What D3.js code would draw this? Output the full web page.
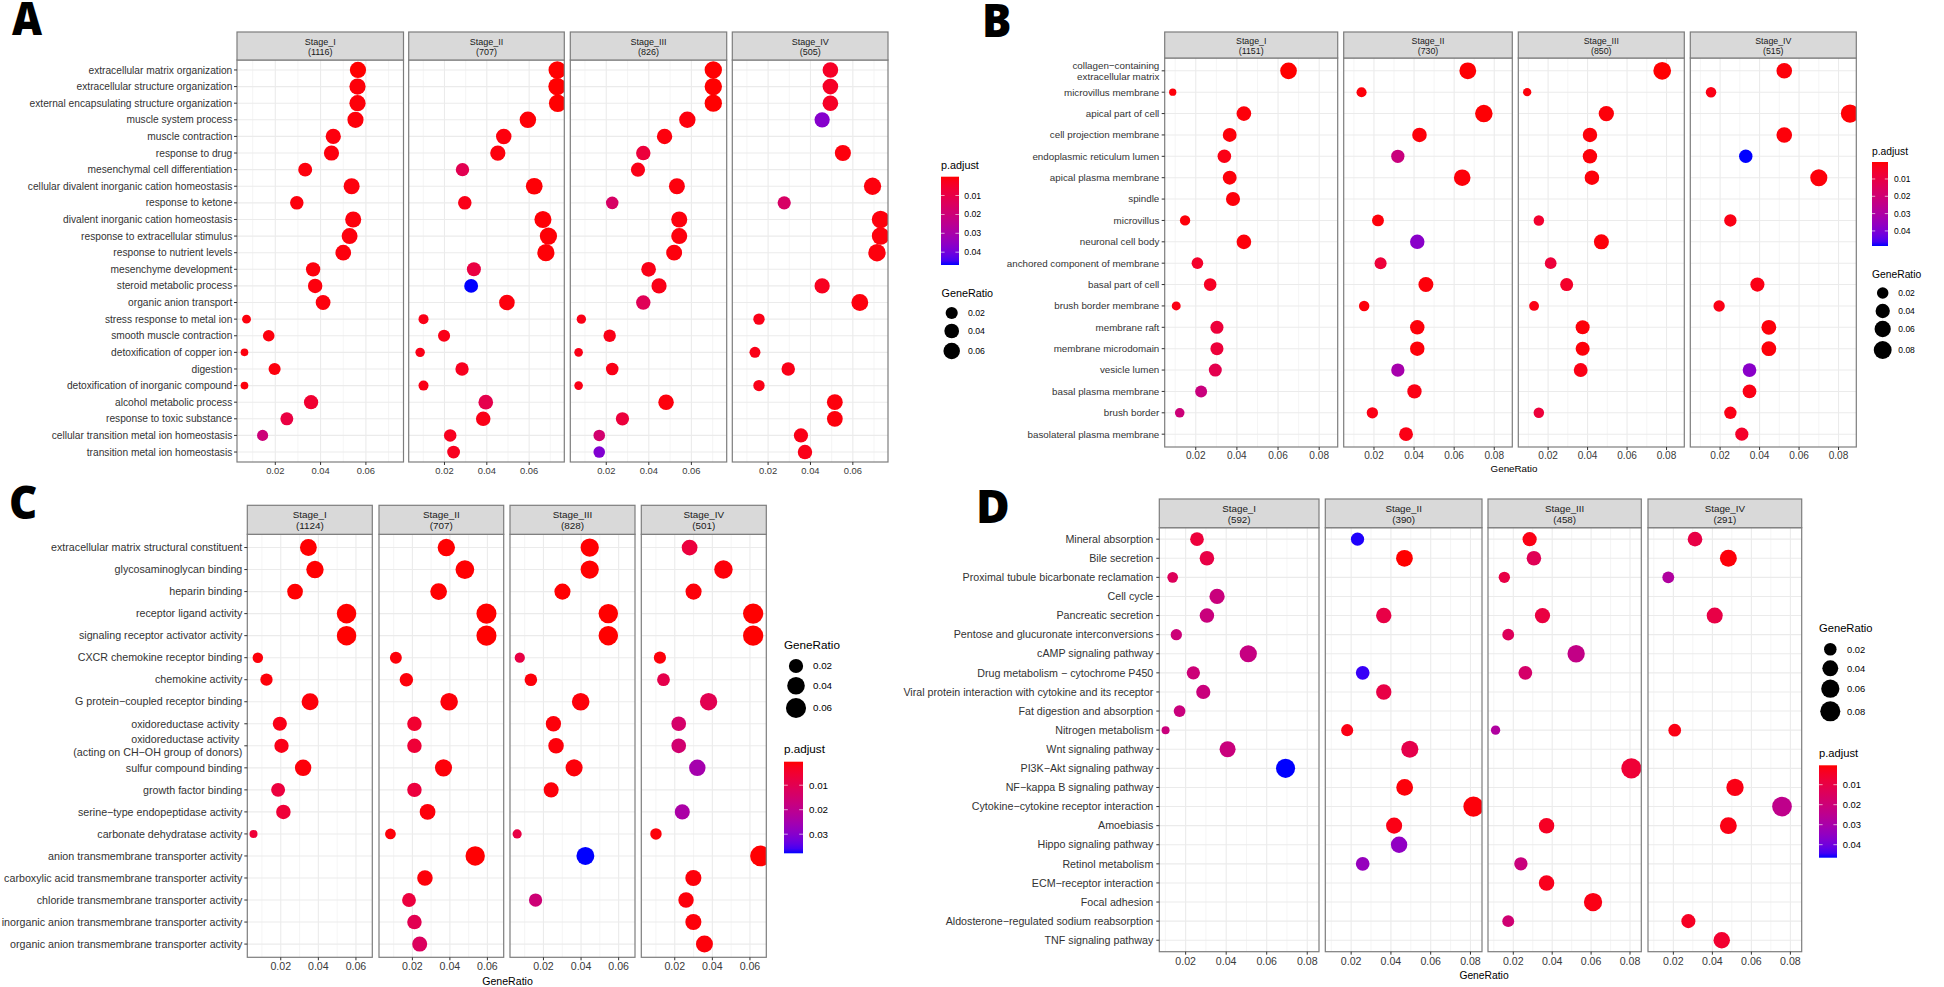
<!DOCTYPE html>
<html>
<head>
<meta charset="utf-8">
<script src="https://cdn.jsdelivr.net/npm/d3@7/dist/d3.min.js"></script>
<style>
  html, body { margin: 0; padding: 0; background: #ffffff; }
  svg { display: block; }
</style>
</head>
<body>
<svg id="chart" width="1944" height="987"></svg>
<script>
// ---------------- DATA ----------------
const STAGES = ["Stage_I", "Stage_II", "Stage_III", "Stage_IV"];

// Panel A (GO BP)
const A_terms = ["extracellular matrix organization","extracellular structure organization","external encapsulating structure organization","muscle system process","muscle contraction","response to drug","mesenchymal cell differentiation","cellular divalent inorganic cation homeostasis","response to ketone","divalent inorganic cation homeostasis","response to extracellular stimulus","response to nutrient levels","mesenchyme development","steroid metabolic process","organic anion transport","stress response to metal ion","smooth muscle contraction","detoxification of copper ion","digestion","detoxification of inorganic compound","alcohol metabolic process","response to toxic substance","cellular transition metal ion homeostasis","transition metal ion homeostasis"];
const A_counts = ["(1116)", "(707)", "(826)", "(505)"];
const A_ratio = [
  [0.0565,0.0563,0.0563,0.0554,0.0456,0.0448,0.0332,0.0537,0.0295,0.0544,0.0528,0.0500,0.0367,0.0376,0.0411,0.0073,0.0171,0.0064,0.0197,0.0064,0.0358,0.0251,0.0144,null],
  [0.0733,0.0732,0.0735,0.0594,0.0480,0.0452,0.0285,0.0624,0.0296,0.0665,0.0691,0.0679,0.0339,0.0326,0.0495,0.0101,0.0198,0.0085,0.0283,0.0101,0.0395,0.0383,0.0227,0.0243],
  [0.0703,0.0703,0.0703,0.0581,0.0474,0.0374,0.0349,0.0532,0.0228,0.0543,0.0543,0.0519,0.0399,0.0448,0.0374,0.0083,0.0216,0.0070,0.0228,0.0070,0.0481,0.0276,0.0167,0.0167],
  [0.0494,0.0494,0.0494,0.0455,null,0.0553,null,0.0693,0.0276,0.0731,0.0731,0.0714,null,0.0455,0.0633,0.0157,null,0.0138,0.0295,0.0157,0.0515,0.0515,0.0355,0.0374]
];
const A_padj = [
  [0.00002,0.0008,0.0008,0.0008,0.001,0.001,0.001,0.001,0.001,0.001,0.001,0.001,0.001,0.001,0.001,0.001,0.001,0.001,0.001,0.001,0.006,0.009,0.020,null],
  [0.0001,0.0001,0.0001,0.0005,0.001,0.001,0.012,0.0005,0.002,0.0005,0.0005,0.0005,0.009,0.0468,0.001,0.002,0.002,0.002,0.003,0.002,0.011,0.002,0.003,0.003],
  [0.0001,0.0001,0.0001,0.001,0.001,0.008,0.002,0.001,0.016,0.001,0.001,0.001,0.002,0.002,0.013,0.002,0.002,0.002,0.002,0.002,0.001,0.008,0.018,0.038],
  [0.004,0.004,0.004,0.037,null,0.001,null,0.001,0.016,0.001,0.001,0.001,null,0.003,0.001,0.002,null,0.002,0.002,0.002,0.001,0.001,0.002,0.002]
];

// Panel B (GO CC)
const B_terms = ["collagen\u2212containing\nextracellular matrix","microvillus membrane","apical part of cell","cell projection membrane","endoplasmic reticulum lumen","apical plasma membrane","spindle","microvillus","neuronal cell body","anchored component of membrane","basal part of cell","brush border membrane","membrane raft","membrane microdomain","vesicle lumen","basal plasma membrane","brush border","basolateral plasma membrane"];
const B_counts = ["(1151)", "(730)", "(850)", "(515)"];
const B_ratio = [
  [0.0651,0.0088,0.0434,0.0365,0.0339,0.0365,0.0381,0.0148,0.0434,0.0208,0.0270,0.0105,0.0303,0.0303,0.0295,0.0226,0.0122,null],
  [0.0668,0.0138,0.0748,0.0427,0.0319,0.0640,null,0.0220,0.0416,0.0233,0.0459,0.0151,0.0416,0.0416,0.0319,0.0402,0.0192,0.0360],
  [0.0778,0.0094,0.0495,0.0412,0.0412,0.0422,null,0.0153,0.0470,0.0213,0.0294,0.0129,0.0375,0.0375,0.0365,null,0.0153,null],
  [0.0525,0.0154,0.0858,0.0525,0.0330,0.0700,null,0.0252,null,null,0.0389,0.0195,0.0447,0.0447,0.0349,0.0349,0.0252,0.0310]
];
const B_padj = [
  [0.0002,0.001,0.001,0.001,0.002,0.001,0.001,0.001,0.001,0.005,0.004,0.002,0.008,0.008,0.012,0.022,0.021,null],
  [0.0005,0.001,0.0005,0.001,0.022,0.001,null,0.001,0.038,0.008,0.001,0.001,0.001,0.001,0.032,0.002,0.002,0.002],
  [0.0003,0.001,0.001,0.001,0.001,0.001,null,0.006,0.001,0.008,0.005,0.002,0.001,0.001,0.002,null,0.008,null],
  [0.001,0.002,0.0005,0.001,0.0487,0.001,null,0.002,null,null,0.002,0.002,0.001,0.001,0.038,0.002,0.002,0.005]
];

// Panel C (GO MF)
const C_terms = ["extracellular matrix structural constituent","glycosaminoglycan binding","heparin binding","receptor ligand activity","signaling receptor activator activity","CXCR chemokine receptor binding","chemokine activity","G protein\u2212coupled receptor binding","oxidoreductase activity ","oxidoreductase activity \n(acting on CH\u2212OH group of donors)","sulfur compound binding","growth factor binding","serine\u2212type endopeptidase activity","carbonate dehydratase activity","anion transmembrane transporter activity","carboxylic acid transmembrane transporter activity","chloride transmembrane transporter activity","inorganic anion transmembrane transporter activity","organic anion transmembrane transporter activity"];
const C_counts = ["(1124)", "(707)", "(828)", "(501)"];
const C_ratio = [
  [0.0347,0.0382,0.0276,0.0550,0.0550,0.0078,0.0124,0.0356,0.0195,0.0204,0.0319,0.0186,0.0214,0.0055,null,null,null,null,null],
  [0.0381,0.0480,0.0340,0.0595,0.0595,0.0112,0.0168,0.0396,0.0211,0.0211,0.0366,0.0211,0.0281,0.0083,0.0535,0.0267,0.0182,0.0211,0.0239],
  [0.0446,0.0446,0.0301,0.0545,0.0545,0.0074,0.0133,0.0398,0.0253,0.0267,0.0363,0.0241,null,0.0060,0.0423,null,0.0158,null,null],
  [0.0279,0.0459,0.0300,0.0617,0.0617,0.0121,0.0140,0.0380,0.0221,0.0221,0.0320,null,0.0240,0.0100,0.0656,0.0299,0.0260,0.0299,0.0358]
];
const C_padj = [
  [0.0005,0.0005,0.0005,0.0004,0.0004,0.001,0.001,0.001,0.002,0.002,0.001,0.007,0.006,0.006,null,null,null,null,null],
  [0.0005,0.0005,0.0005,0.0004,0.0004,0.001,0.001,0.001,0.005,0.006,0.001,0.007,0.001,0.001,0.0005,0.001,0.007,0.010,0.012],
  [0.0005,0.0005,0.0005,0.0004,0.0004,0.008,0.001,0.001,0.001,0.001,0.001,0.001,null,0.008,0.0378,null,0.016,null,null],
  [0.007,0.001,0.001,0.0004,0.0004,0.001,0.009,0.010,0.014,0.015,0.025,null,0.024,0.001,0.0005,0.001,0.001,0.001,0.001]
];

// Panel D (KEGG)
const D_terms = ["Mineral absorption","Bile secretion","Proximal tubule bicarbonate reclamation","Cell cycle","Pancreatic secretion","Pentose and glucuronate interconversions","cAMP signaling pathway","Drug metabolism \u2212 cytochrome P450","Viral protein interaction with cytokine and its receptor","Fat digestion and absorption","Nitrogen metabolism","Wnt signaling pathway","PI3K\u2212Akt signaling pathway","NF\u2212kappa B signaling pathway","Cytokine\u2212cytokine receptor interaction","Amoebiasis","Hippo signaling pathway","Retinol metabolism","ECM\u2212receptor interaction","Focal adhesion","Aldosterone\u2212regulated sodium reabsorption","TNF signaling pathway"];
const D_counts = ["(592)", "(390)", "(458)", "(291)"];
const D_ratio = [
  [0.0256,0.0305,0.0136,0.0355,0.0305,0.0154,0.0509,0.0238,0.0287,0.0170,0.0101,0.0407,0.0693,null,null,null,null,null,null,null,null,null],
  [0.0232,0.0468,null,null,0.0364,null,null,0.0258,0.0364,null,0.0180,0.0495,null,0.0469,0.0815,0.0416,0.0441,0.0258,null,null,null,null],
  [0.0284,0.0306,0.0154,null,0.0350,0.0174,0.0523,0.0262,null,null,0.0109,null,0.0807,null,null,0.0371,null,0.0239,0.0371,0.0610,0.0174,null],
  [0.0311,0.0482,0.0174,null,0.0412,null,null,null,null,null,0.0207,null,null,0.0516,0.0757,0.0482,null,null,null,null,0.0277,0.0448]
];
const D_padj = [
  [0.008,0.010,0.014,0.021,0.021,0.020,0.022,0.020,0.021,0.021,0.021,0.021,0.0465,null,null,null,null,null,null,null,null,null],
  [0.046,0.0003,null,null,0.010,null,null,0.045,0.010,null,0.002,0.011,null,0.001,0.001,0.002,0.035,0.034,null,null,null,null],
  [0.002,0.013,0.010,null,0.009,0.014,0.023,0.017,null,null,0.028,null,0.007,null,null,0.004,null,0.021,0.003,0.002,0.019,null],
  [0.010,0.001,0.028,null,0.010,null,null,null,null,null,0.002,null,null,0.002,0.024,0.002,null,null,null,null,0.004,0.006]
];

// Tick / legend breaks
const A_xticks = [0.02, 0.04, 0.06];
const B_xticks = [0.02, 0.04, 0.06, 0.08];
const C_xticks = [0.02, 0.04, 0.06];
const D_xticks = [0.02, 0.04, 0.06, 0.08];
const A_sizeBreaks = [0.02, 0.04, 0.06];
const B_sizeBreaks = [0.02, 0.04, 0.06, 0.08];
const C_sizeBreaks = [0.02, 0.04, 0.06];
const D_sizeBreaks = [0.02, 0.04, 0.06, 0.08];
const A_colorBreaks = [0.01, 0.02, 0.03, 0.04];
const B_colorBreaks = [0.01, 0.02, 0.03, 0.04];
const C_colorBreaks = [0.01, 0.02, 0.03];
const D_colorBreaks = [0.01, 0.02, 0.03, 0.04];

// ---------------- LAYOUT ----------------
const FONT = "'Liberation Sans', Arial, Helvetica, sans-serif";
const layoutA = {
  facets: [[237,403.5],[408.7,564.3],[570.3,726.7],[732.3,888]],
  stripTop: 32, stripBottom: 60, plotBottom: 462,
  xDomain: [0.0031, 0.0766], diam: [7.7, 17.6],
  labelFs: 10.2, labelGap: 4.7, tickFs: 9.4, tickLabelY: 471, stripFs: 9, stripLines: [41.7, 51.7],
  axisTitle: null, letter: {text: "A", x: 12, y: 35, sx: 0.9},
  colorLeg: {x: 941, titleY: 165.7, barTop: 176.7, barBottom: 265, barW: 18, labelX: 964.3, titleFs: 10.8, labelFs: 8.7},
  sizeLeg: {x: 941.5, titleY: 293.3, cx: 951.7, ys: [313, 331, 351], labelX: 968, titleFs: 10.8, labelFs: 8.7}
};
const layoutB = {
  facets: [[1164.7,1337.7],[1343.7,1512.3],[1518.3,1684.3],[1690.3,1856.3]],
  stripTop: 32, stripBottom: 58, plotBottom: 447,
  xDomain: [0.0049, 0.089], diam: [7.3, 18.3],
  labelFs: 9.8, labelGap: 5.4, tickFs: 10.1, tickLabelY: 455.7, stripFs: 8.8, stripLines: [40.7, 50.7],
  axisTitle: {x: 1514, y: 469, fs: 9.8}, letter: {text: "B", x: 982, y: 37, sx: 0.95},
  colorLeg: {x: 1872, titleY: 151, barTop: 162, barBottom: 246, barW: 16, labelX: 1894, titleFs: 10.3, labelFs: 8.5},
  sizeLeg: {x: 1872, titleY: 274, cx: 1882.7, ys: [293, 311, 329, 350], labelX: 1898.3, titleFs: 10.3, labelFs: 8.5}
};
const layoutC = {
  facets: [[247.3,372.3],[379,503.7],[510,635],[641.3,766.3]],
  stripTop: 505.3, stripBottom: 534.3, plotBottom: 957.3,
  xDomain: [0.0022, 0.0687], diam: [8, 20.7],
  labelFs: 10.7, labelGap: 5, tickFs: 10.6, tickLabelY: 966.7, stripFs: 9.9, stripLines: [515, 526],
  axisTitle: {x: 507.5, y: 981, fs: 10.6}, letter: {text: "C", x: 9, y: 519, sx: 0.95},
  sizeLeg: {x: 784, titleY: 645, cx: 796, ys: [666, 685.7, 708], labelX: 813, titleFs: 11.7, labelFs: 9.8},
  colorLeg: {x: 784, titleY: 749, barTop: 761.7, barBottom: 853.3, barW: 19, labelX: 809, titleFs: 11.7, labelFs: 9.8}
};
const layoutD = {
  facets: [[1159.3,1319],[1325.3,1482],[1488,1641.3],[1648,1801.7]],
  stripTop: 499, stripBottom: 527.7, plotBottom: 951.7,
  xDomain: [0.0070, 0.0858], diam: [8, 20.2],
  labelFs: 10.7, labelGap: 6, tickFs: 10.6, tickLabelY: 961, stripFs: 9.8, stripLines: [508.3, 519.3],
  axisTitle: {x: 1484, y: 975, fs: 10.3}, letter: {text: "D", x: 976, y: 523, sx: 1},
  sizeLeg: {x: 1819, titleY: 628, cx: 1830.3, ys: [649.3, 668.3, 688.7, 711.3], labelX: 1847, titleFs: 11.2, labelFs: 9.4},
  colorLeg: {x: 1819, titleY: 753.3, barTop: 765.3, barBottom: 857.7, barW: 18, labelX: 1842.7, titleFs: 11.2, labelFs: 9.4}
};

const BORDER = "#7d7d7d";
const GRID = "#EBEBEB";
const svg = d3.select("#chart");
svg.append("rect").attr("width", 1944).attr("height", 987).attr("fill", "#fff");
const defs = svg.append("defs");
let uid = 0;

function drawPanel(terms, counts, ratio, padj, xticks, sizeBreaks, colorBreaks, L) {
  const g = svg.append("g");
  const allR = ratio.flat().filter(v => v != null);
  const allP = padj.flat().filter(v => v != null);
  const tScale = d3.scaleLinear().domain(d3.extent(allR)).range([0, 1]);
  const dScale = d3.scaleSqrt().domain([0, 1]).range(L.diam);
  const rad = v => dScale(tScale(v)) / 2;
  const pExt = d3.extent(allP);
  const color = d3.scaleLinear().domain(pExt).range(["#FF0000", "#0000FF"]).interpolate(d3.interpolateLab).clamp(true);
  const y = d3.scalePoint().domain(terms).range([L.stripBottom, L.plotBottom]).padding(0.6);
  const minors = d3.range(1, 10, 2).map(k => k / 100).filter(v => v > L.xDomain[0] && v < L.xDomain[1]);

  STAGES.forEach((st, i) => {
    const [x0, x1] = L.facets[i];
    const x = d3.scaleLinear().domain(L.xDomain).range([x0, x1]);
    const fg = g.append("g");
    fg.append("rect").attr("x", x0).attr("y", L.stripBottom).attr("width", x1 - x0)
      .attr("height", L.plotBottom - L.stripBottom).attr("fill", "#fff");
    // grid
    fg.selectAll(".mn").data(minors).join("line")
      .attr("x1", d => x(d)).attr("x2", d => x(d)).attr("y1", L.stripBottom).attr("y2", L.plotBottom)
      .attr("stroke", "#F2F2F2").attr("stroke-width", 0.8);
    fg.selectAll(".mj").data(xticks).join("line")
      .attr("x1", d => x(d)).attr("x2", d => x(d)).attr("y1", L.stripBottom).attr("y2", L.plotBottom)
      .attr("stroke", GRID).attr("stroke-width", 1.1);
    fg.selectAll(".hy").data(terms).join("line")
      .attr("x1", x0).attr("x2", x1).attr("y1", d => y(d)).attr("y2", d => y(d))
      .attr("stroke", GRID).attr("stroke-width", 1.1);
    // points
    const cid = "clip" + (uid++);
    defs.append("clipPath").attr("id", cid).append("rect")
      .attr("x", x0).attr("y", L.stripBottom).attr("width", x1 - x0).attr("height", L.plotBottom - L.stripBottom);
    const pts = terms.map((t, j) => ({t, r: ratio[i][j], p: padj[i][j]})).filter(d => d.r != null);
    fg.append("g").attr("clip-path", `url(#${cid})`).selectAll("circle").data(pts).join("circle")
      .attr("cx", d => x(d.r)).attr("cy", d => y(d.t)).attr("r", d => rad(d.r))
      .attr("fill", d => color(d.p));
    // border
    fg.append("rect").attr("x", x0).attr("y", L.stripBottom).attr("width", x1 - x0)
      .attr("height", L.plotBottom - L.stripBottom).attr("fill", "none")
      .attr("stroke", BORDER).attr("stroke-width", 1.2);
    // strip
    fg.append("rect").attr("x", x0).attr("y", L.stripTop).attr("width", x1 - x0)
      .attr("height", L.stripBottom - L.stripTop).attr("fill", "#D9D9D9")
      .attr("stroke", BORDER).attr("stroke-width", 1.2);
    [st, counts[i]].forEach((txt, k) => {
      fg.append("text").attr("x", (x0 + x1) / 2).attr("y", L.stripLines[k]).attr("dy", "0.35em")
        .attr("text-anchor", "middle").attr("font-family", FONT).attr("font-size", L.stripFs)
        .attr("fill", "#1A1A1A").text(txt);
    });
    // x axis
    fg.selectAll(".xt").data(xticks).join("line")
      .attr("x1", d => x(d)).attr("x2", d => x(d)).attr("y1", L.plotBottom).attr("y2", L.plotBottom + 3)
      .attr("stroke", "#333").attr("stroke-width", 1);
    fg.selectAll(".xl").data(xticks).join("text")
      .attr("x", d => x(d)).attr("y", L.tickLabelY).attr("dy", "0.35em").attr("text-anchor", "middle")
      .attr("font-family", FONT).attr("font-size", L.tickFs).attr("fill", "#3a3a3a")
      .text(d => d3.format(".2f")(d));
  });

  // y axis on first facet
  const fx0 = L.facets[0][0];
  g.selectAll(".yt").data(terms).join("line")
    .attr("x1", fx0 - 3).attr("x2", fx0).attr("y1", d => y(d)).attr("y2", d => y(d))
    .attr("stroke", "#333").attr("stroke-width", 1);
  terms.forEach(t => {
    const lines = t.split("\n");
    const lh = L.labelFs * 1.15;
    const txt = g.append("text").attr("font-family", FONT).attr("font-size", L.labelFs)
      .attr("fill", "#333").attr("text-anchor", "end").style("white-space", "pre");
    lines.forEach((ln, k) => {
      txt.append("tspan").attr("x", fx0 - L.labelGap)
        .attr("y", y(t) + (k - (lines.length - 1) / 2) * lh).attr("dy", "0.35em").text(ln);
    });
  });

  if (L.axisTitle) {
    g.append("text").attr("x", L.axisTitle.x).attr("y", L.axisTitle.y).attr("dy", "0.35em")
      .attr("text-anchor", "middle").attr("font-family", FONT).attr("font-size", L.axisTitle.fs)
      .attr("fill", "#000").text("GeneRatio");
  }
  g.append("text").attr("transform", `translate(${L.letter.x},${L.letter.y}) scale(${L.letter.sx},1)`)
    .attr("font-family", "'Open Sans', 'Liberation Sans', sans-serif").attr("font-weight", 800)
    .attr("font-size", 46).attr("fill", "#000").text(L.letter.text);

  // colour legend
  const C = L.colorLeg;
  g.append("text").attr("x", C.x).attr("y", C.titleY).attr("dy", "0.35em").attr("font-family", FONT)
    .attr("font-size", C.titleFs).attr("fill", "#000").text("p.adjust");
  const gid = "grad" + (uid++);
  const grad = defs.append("linearGradient").attr("id", gid).attr("x1", 0).attr("y1", 0).attr("x2", 0).attr("y2", 1);
  d3.range(0, 21).forEach(k => {
    const t = k / 20;
    grad.append("stop").attr("offset", t).attr("stop-color", color(pExt[0] + t * (pExt[1] - pExt[0])));
  });
  g.append("rect").attr("x", C.x).attr("y", C.barTop).attr("width", C.barW).attr("height", C.barBottom - C.barTop)
    .attr("fill", `url(#${gid})`);
  const cb = d3.scaleLinear().domain(pExt).range([C.barTop, C.barBottom]);
  const cbr = colorBreaks.filter(v => v >= pExt[0] && v <= pExt[1]);
  g.selectAll(".cbt").data(cbr).join("line")
    .attr("x1", C.x).attr("x2", C.x + C.barW / 5).attr("y1", d => cb(d)).attr("y2", d => cb(d))
    .attr("stroke", "#fff").attr("stroke-width", 0.8).attr("opacity", 0.8);
  g.selectAll(".cbt2").data(cbr).join("line")
    .attr("x1", C.x + C.barW * 0.8).attr("x2", C.x + C.barW).attr("y1", d => cb(d)).attr("y2", d => cb(d))
    .attr("stroke", "#fff").attr("stroke-width", 0.8).attr("opacity", 0.8);
  g.selectAll(".cbl").data(cbr).join("text")
    .attr("x", C.labelX).attr("y", d => cb(d)).attr("dy", "0.35em").attr("font-family", FONT)
    .attr("font-size", C.labelFs).attr("fill", "#000").text(d => d3.format(".2f")(d));

  // size legend
  const S = L.sizeLeg;
  g.append("text").attr("x", S.x).attr("y", S.titleY).attr("dy", "0.35em").attr("font-family", FONT)
    .attr("font-size", S.titleFs).attr("fill", "#000").text("GeneRatio");
  g.selectAll(".sl").data(sizeBreaks).join("circle")
    .attr("cx", S.cx).attr("cy", (d, k) => S.ys[k]).attr("r", d => rad(d)).attr("fill", "#000");
  g.selectAll(".slt").data(sizeBreaks).join("text")
    .attr("x", S.labelX).attr("y", (d, k) => S.ys[k]).attr("dy", "0.35em").attr("font-family", FONT)
    .attr("font-size", S.labelFs).attr("fill", "#000").text(d => d3.format(".2f")(d));
}

drawPanel(A_terms, A_counts, A_ratio, A_padj, A_xticks, A_sizeBreaks, A_colorBreaks, layoutA);
drawPanel(B_terms, B_counts, B_ratio, B_padj, B_xticks, B_sizeBreaks, B_colorBreaks, layoutB);
drawPanel(C_terms, C_counts, C_ratio, C_padj, C_xticks, C_sizeBreaks, C_colorBreaks, layoutC);
drawPanel(D_terms, D_counts, D_ratio, D_padj, D_xticks, D_sizeBreaks, D_colorBreaks, layoutD);
</script>
</body>
</html>
